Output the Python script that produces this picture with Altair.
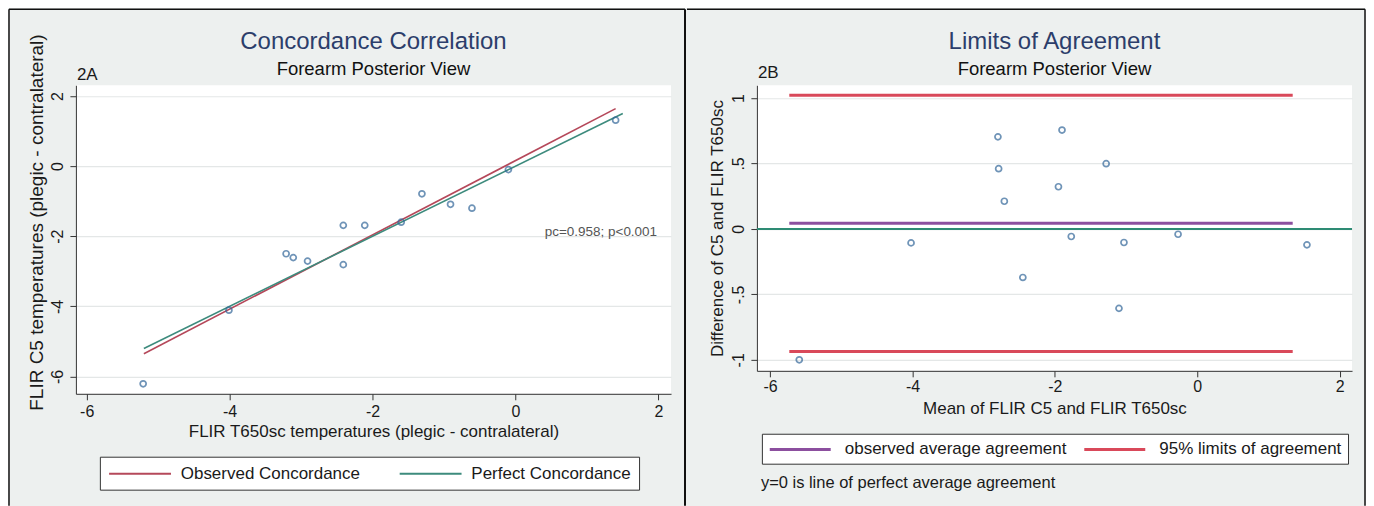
import altair as alt
import pandas as pd

FONT = "Liberation Sans"
BG = "#edf0ef"

# ---------------- Panel 2A: concordance ----------------
t650 = [-5.21, -4.01, -3.21, -3.11, -2.91, -2.41, -2.41, -2.11, -1.60, -1.31, -0.91, -0.61, -0.10, 1.40]
c5 = [-6.21, -4.11, -2.50, -2.61, -2.71, -1.69, -2.81, -1.69, -1.60, -0.79, -1.09, -1.20, -0.10, 1.31]
conc_series = ["Observed Concordance", "Observed Concordance", "Perfect Concordance", "Perfect Concordance"]
conc_x = [-5.2, 1.40, -5.2, 1.50]
conc_y = [-5.35, 1.64, -5.2, 1.50]
conc_names = ["Observed Concordance", "Perfect Concordance"]
conc_colors = ["#b5485a", "#3d8b7d"]
ticks_a = [-6, -4, -2, 0, 2]
annot_text = ["pc=0.958; p<0.001"]
annot_x = [1.98]
annot_y = [-1.89]

# ---------------- Panel 2B: limits of agreement ----------------
ba_mean = [-5.59, -4.02, -2.80, -2.79, -2.71, -2.45, -1.95, -1.90, -1.77, -1.28, -1.10, -1.03, -0.27, 1.54]
ba_diff = [-1.00, -0.107, 0.703, 0.46, 0.211, -0.371, 0.322, 0.755, -0.058, 0.498, -0.607, -0.104, -0.041, -0.122]
ref_series = ["observed average agreement", "95% limits of agreement", "95% limits of agreement"]
ref_y = [0.043, 1.02, -0.937]
ref_x_start = [-5.73, -5.73, -5.73]
ref_x_end = [1.34, 1.34, 1.34]
ref_names = ["observed average agreement", "95% limits of agreement"]
ref_colors = ["#8c4f9f", "#d9495a"]
zero_line = [0]
ticks_bx = [-6, -4, -2, 0, 2]
ticks_by = [-1, -0.5, 0, 0.5, 1]
note_text = ["y=0 is line of perfect average agreement"]

W = 596
HA, HB = 309, 286
TOP, BOTTOM = -77, 421

int_label = "datum.value < 0 ? '-' + format(-datum.value, 'd') : format(datum.value, 'd')"
dec_label = ("datum.value == 0 ? '0' : (datum.value < 0 ? '-' : '') + "
             "replace(format(abs(datum.value), '~g'), '0.', '.')")

LINE_SYMBOL = "M-1,0H7"


def one(col, vals):
    return pd.DataFrame({col: vals})


def frame(left, right, draw_left, right_w):
    layers = [
        alt.Chart(one("k", [0])).mark_rect(opacity=0).encode(
            x=alt.value(left - 1), x2=alt.value(right + 1),
            y=alt.value(TOP), y2=alt.value(BOTTOM)),
        alt.Chart(one("k", [0])).mark_rule(color="#111", strokeWidth=1.5).encode(
            x=alt.value(left), x2=alt.value(right), y=alt.value(TOP + 1)),
        alt.Chart(one("k", [0])).mark_rule(color="#111", strokeWidth=right_w).encode(
            x=alt.value(right), y=alt.value(TOP + 1), y2=alt.value(BOTTOM)),
    ]
    if draw_left:
        layers.append(alt.Chart(one("k", [0])).mark_rule(color="#111", strokeWidth=1.5).encode(
            x=alt.value(left), y=alt.value(TOP + 1), y2=alt.value(BOTTOM)))
    return layers


# ---- left panel
xa = alt.Scale(domain=[-6.151, 2.175], nice=False, zero=False)
ya = alt.Scale(domain=[-6.494, 2.306], nice=False, zero=False)
xa_axis = alt.Axis(values=ticks_a, title="FLIR T650sc temperatures (plegic - contralateral)",
                   labelExpr=int_label, grid=False, labelPadding=4, titlePadding=4, labelFlush=False)
ya_axis = alt.Axis(values=ticks_a, title="FLIR C5 temperatures (plegic - contralateral)",
                   labelExpr=int_label, grid=True, labelAngle=270, labelAlign="center",
                   labelBaseline="bottom", labelPadding=4, titlePadding=3, titleY=137,
                   titleFontSize=19, labelFlush=False)
XA = alt.X("x:Q", scale=xa, axis=xa_axis)
YA = alt.Y("y:Q", scale=ya, axis=ya_axis)

leg_a = alt.Legend(orient="none", legendX=24, legendY=372, direction="horizontal", title=None,
                   symbolType=LINE_SYMBOL, symbolSize=240, symbolStrokeWidth=2,
                   labelFontSize=17, labelOffset=55, columnPadding=35, padding=8,
                   strokeColor="#333", fillColor="white", labelLimit=0, labelColor="#1a1a1a")

lines_a = alt.Chart(pd.DataFrame({"series": conc_series, "x": conc_x, "y": conc_y})).mark_line(
    strokeWidth=1.6).encode(
    x=XA, y=YA,
    color=alt.Color("series:N", scale=alt.Scale(domain=conc_names, range=conc_colors), legend=leg_a))
pts_a = alt.Chart(pd.DataFrame({"x": t650, "y": c5})).mark_point(
    shape="circle", filled=False, size=36, strokeWidth=1.7, color="#33679a").encode(x=XA, y=YA)
annot_a = alt.Chart(pd.DataFrame({"x": annot_x, "y": annot_y, "t": annot_text})).mark_text(
    align="right", baseline="middle", fontSize=13.5, color="#555").encode(x=XA, y=YA, text="t:N")
tag_a = alt.Chart(one("t", ["2A"])).mark_text(
    align="left", baseline="middle", fontSize=17, color="#1a1a1a").encode(
    x=alt.value(1), y=alt.value(-10), text="t:N")

left = alt.layer(*frame(-67, 610, True, 2), lines_a, pts_a, annot_a, tag_a).properties(
    width=W, height=HA,
    title=alt.TitleParams(text="Concordance Correlation", subtitle="Forearm Posterior View",
                          fontSize=24, subtitleFontSize=18.5, color="#2c3e6b", subtitleColor="#111",
                          anchor="middle", frame="group", offset=-70, subtitlePadding=6,
                          fontWeight="normal", font=FONT, subtitleFont=FONT))

# ---- right panel
xb = alt.Scale(domain=[-6.185, 2.173], nice=False, zero=False)
yb = alt.Scale(domain=[-1.084, 1.097], nice=False, zero=False)
xb_axis = alt.Axis(values=ticks_bx, title="Mean of FLIR C5 and FLIR T650sc",
                   labelExpr=int_label, grid=False, labelPadding=2, titlePadding=6, labelFlush=False)
yb_axis = alt.Axis(values=ticks_by, title="Difference of C5 and FLIR T650sc",
                   labelExpr=dec_label, grid=True, labelAngle=270, labelAlign="center",
                   labelBaseline="bottom", labelPadding=4, titlePadding=4, labelFlush=False)
XB = alt.X("x:Q", scale=xb, axis=xb_axis)
YB = alt.Y("y:Q", scale=yb, axis=yb_axis)

leg_b = alt.Legend(orient="none", legendX=5, legendY=349, direction="horizontal", title=None,
                   symbolType=LINE_SYMBOL, symbolSize=233, symbolStrokeWidth=3,
                   labelFontSize=17, labelOffset=58, columnPadding=10, padding=6,
                   strokeColor="#333", fillColor="white", labelLimit=0, labelColor="#1a1a1a")

zero_b = alt.Chart(one("y", zero_line)).mark_rule(color="#2e8b74", strokeWidth=2).encode(y=YB)
refs_b = alt.Chart(pd.DataFrame({"series": ref_series, "y": ref_y, "x": ref_x_start,
                                 "x2": ref_x_end})).mark_rule(strokeWidth=3).encode(
    x=XB, x2="x2:Q", y=YB,
    color=alt.Color("series:N", scale=alt.Scale(domain=ref_names, range=ref_colors), legend=leg_b))
pts_b = alt.Chart(pd.DataFrame({"x": ba_mean, "y": ba_diff})).mark_point(
    shape="circle", filled=False, size=36, strokeWidth=1.7, color="#33679a").encode(x=XB, y=YB)
note_b = alt.Chart(one("t", note_text)).mark_text(
    align="left", baseline="middle", fontSize=16.5, color="#1a1a1a").encode(
    x=alt.value(4), y=alt.value(398), text="t:N")
tag_b = alt.Chart(one("t", ["2B"])).mark_text(
    align="left", baseline="middle", fontSize=17, color="#1a1a1a").encode(
    x=alt.value(1), y=alt.value(-12), text="t:N")

right = alt.layer(*frame(-70, 609, False, 1.5), zero_b, refs_b, pts_b, note_b, tag_b).properties(
    width=W, height=HB,
    title=alt.TitleParams(text="Limits of Agreement", subtitle="Forearm Posterior View",
                          fontSize=24, subtitleFontSize=18.5, color="#2c3e6b", subtitleColor="#111",
                          anchor="middle", frame="group", offset=-70, subtitlePadding=6,
                          fontWeight="normal", font=FONT, subtitleFont=FONT))

chart = alt.hconcat(left, right, spacing=0).resolve_scale(color="independent").properties(
    padding=0, background=BG
).configure(font=FONT).configure_view(fill="white", strokeWidth=0).configure_axis(
    domainColor="#333", tickColor="#333", labelColor="#1a1a1a", titleColor="#1a1a1a",
    labelFontSize=16, titleFontSize=17, titleFontWeight="normal", tickSize=6,
    gridColor="#e4e7e7", gridWidth=1.2, labelFont=FONT, titleFont=FONT
).configure_legend(labelFont=FONT, cornerRadius=0)

chart.save("out.html", embed_options={"renderer": "svg", "actions": False})
